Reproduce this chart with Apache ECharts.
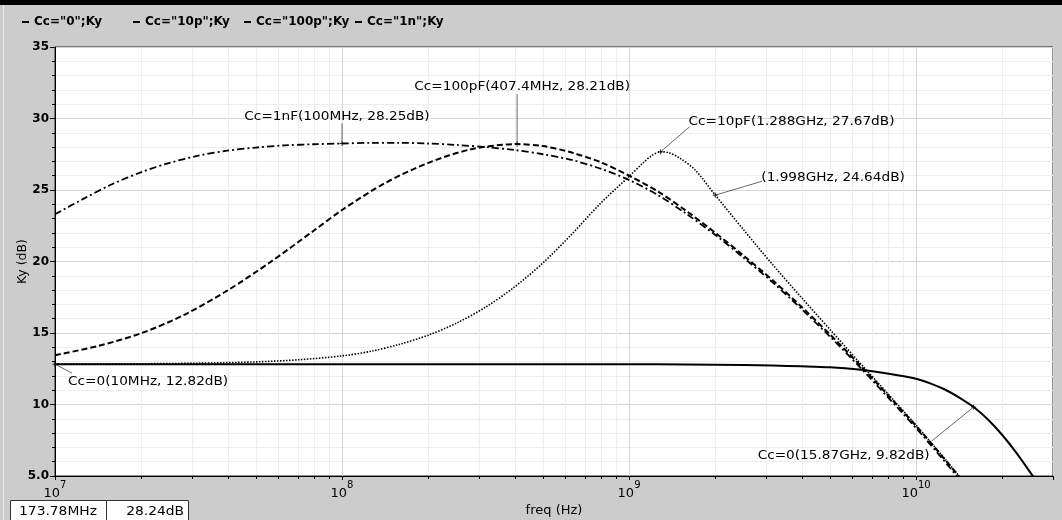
<!DOCTYPE html>
<html><head><meta charset="utf-8">
<script src="https://cdn.jsdelivr.net/npm/echarts@6/dist/echarts.min.js"></script>
<style>html,body{margin:0;padding:0;background:#cccccc;}#c{width:1062px;height:520px;}</style>
</head><body><div id="c"></div>
<script>
// ---------------- data ----------------
const seriesNames = ['Cc="0";Ky', 'Cc="10p";Ky', 'Cc="100p";Ky', 'Cc="1n";Ky'];

const freqCc0 = [1e7, 1e8, 1e9, 1.58e9, 2.51e9, 3.16e9, 3.98e9, 5.01e9, 6.31e9, 7.94e9, 1e10, 1.12e10, 1.26e10, 1.41e10, 1.587e10, 1.78e10, 2e10, 2.24e10, 2.51e10, 2.82e10];
const kyCc0   = [12.82, 12.82, 12.81, 12.8, 12.76, 12.72, 12.67, 12.6, 12.44, 12.17, 11.8, 11.48, 11.05, 10.5, 9.82, 8.95, 7.85, 6.6, 5.2, 3.7];

const freqCc10p = [1e7, 2e7, 3.16e7, 5.01e7, 7.08e7, 1e8, 1.26e8, 1.58e8, 2e8, 2.51e8, 3.16e8, 3.98e8, 5.01e8, 6.31e8, 7.94e8, 1e9, 1.12e9, 1.2e9, 1.288e9, 1.38e9, 1.51e9, 1.7e9, 1.998e9, 2.51e9, 3.16e9, 3.98e9, 5.01e9, 6.31e9, 7.94e9, 1e10, 1.26e10, 1.58e10];
const kyCc10p   = [12.83, 12.85, 12.89, 12.98, 13.13, 13.4, 13.72, 14.2, 14.85, 15.7, 16.8, 18.2, 19.9, 21.9, 24.05, 25.95, 26.9, 27.4, 27.67, 27.6, 27.2, 26.4, 24.64, 22.2, 19.8, 17.5, 15.25, 13.0, 10.8, 8.55, 6.2, 3.8];

const freqCc100p = [1e7, 1.41e7, 2e7, 2.82e7, 3.98e7, 5.62e7, 7.94e7, 1e8, 1.41e8, 2e8, 2.82e8, 4.074e8, 5.01e8, 6.31e8, 7.94e8, 1e9, 1.26e9, 1.58e9, 2e9, 2.51e9, 3.16e9, 3.98e9, 5.01e9, 6.31e9, 7.94e9, 1e10, 1.26e10, 1.58e10];
const kyCc100p   = [13.45, 14.09, 14.99, 16.27, 17.96, 19.95, 22.13, 23.6, 25.48, 26.9, 27.85, 28.21, 28.07, 27.62, 26.95, 26.0, 24.9, 23.55, 22.0, 20.4, 18.7, 16.85, 14.9, 12.85, 10.7, 8.5, 6.15, 3.75];

const freqCc1n = [1e7, 1.26e7, 1.58e7, 2e7, 2.51e7, 3.16e7, 3.98e7, 5.01e7, 6.31e7, 7.94e7, 1e8, 1.26e8, 1.58e8, 2e8, 2.51e8, 3.16e8, 3.98e8, 5.01e8, 6.31e8, 7.94e8, 1e9, 1.26e9, 1.58e9, 2e9, 2.51e9, 3.16e9, 3.98e9, 5.01e9, 6.31e9, 7.94e9, 1e10, 1.26e10, 1.58e10];
const kyCc1n   = [23.3, 24.4, 25.4, 26.25, 26.9, 27.4, 27.75, 27.97, 28.12, 28.2, 28.25, 28.3, 28.3, 28.25, 28.15, 28.0, 27.8, 27.5, 27.1, 26.5, 25.7, 24.65, 23.35, 21.85, 20.25, 18.55, 16.7, 14.75, 12.7, 10.55, 8.35, 6.0, 3.6];

// minor x grid / tick positions (2..9 per decade)
const xMinorTicks = [2e7, 3e7, 4e7, 5e7, 6e7, 7e7, 8e7, 9e7, 2e8, 3e8, 4e8, 5e8, 6e8, 7e8, 8e8, 9e8, 2e9, 3e9, 4e9, 5e9, 6e9, 7e9, 8e9, 9e9, 2e10];

// marker annotations
const markerFreq  = [1e7, 1e8, 4.074e8, 1.288e9, 1.998e9, 1.587e10];
const markerValue = [12.82, 28.25, 28.21, 27.67, 24.64, 9.82];
const markerText  = ['Cc=0(10MHz, 12.82dB)', 'Cc=1nF(100MHz, 28.25dB)', 'Cc=100pF(407.4MHz, 28.21dB)', 'Cc=10pF(1.288GHz, 27.67dB)', '(1.998GHz, 24.64dB)', 'Cc=0(15.87GHz, 9.82dB)'];

const readoutText = ['173.78MHz', '28.24dB'];

// ---------------- layout ----------------
// annotation: [leaderEndDx, leaderEndDy, textDx, textDy, align]
const markerLayout = [
  [17, 9, 13, 17, 'left'],
  [0, -20, -5, -27, 'center'],
  [0, -50, 5, -57, 'center'],
  [29, -25, 28, -30, 'left'],
  [47, -14, 46, -18, 'left'],
  [-42, 34, -44, 49, 'right']
];
const legendLeft = [22, 133, 244, 355];

function zip(a, b) { return a.map((v, i) => [v, b[i]]); }

const FONT = '"DejaVu Sans", sans-serif';
const chart = echarts.init(document.getElementById('c'), null, { renderer: 'canvas' });

const lineStyles = [
  { type: 'solid', width: 2 },
  { type: [1.5, 1.5], width: 1.6 },
  { type: [6, 3], width: 2 },
  { type: [7, 3, 2, 3], width: 1.8 }
];
const seriesData = [zip(freqCc0, kyCc0), zip(freqCc10p, kyCc10p), zip(freqCc100p, kyCc100p), zip(freqCc1n, kyCc1n)];

const lineSeries = seriesNames.map((n, i) => ({
  name: n,
  type: 'line',
  data: seriesData[i],
  symbol: 'none',
  smooth: 0.3,
  clip: true,
  z: 5,
  itemStyle: { color: '#000' },
  lineStyle: Object.assign({ color: '#000', cap: 'butt' }, lineStyles[i])
}));

const legends = seriesNames.map((n, i) => ({
  data: [n],
  left: legendLeft[i], top: 16,
  icon: 'rect',
  itemWidth: 7, itemHeight: 2,
  itemTextGap: 2,
  selectedMode: false,
  padding: 0,
  textStyle: { fontFamily: FONT, fontSize: 12, fontWeight: 'bold', color: '#000' }
}));

const option = {
  animation: false,
  backgroundColor: '#cccccc',
  textStyle: { fontFamily: FONT },
  graphic: [
    { type: 'rect', shape: { x: 0, y: 0, width: 1062, height: 5 }, style: { fill: '#000' }, silent: true },
    { type: 'line', shape: { x1: 3.5, y1: 5, x2: 3.5, y2: 520 }, style: { stroke: '#ececec', lineWidth: 1 }, silent: true },
    { type: 'rect', shape: { x: 10.5, y: 500.5, width: 96, height: 22 }, style: { fill: '#fff', stroke: '#333', lineWidth: 1 }, silent: true },
    { type: 'rect', shape: { x: 106.5, y: 500.5, width: 82, height: 22 }, style: { fill: '#fff', stroke: '#333', lineWidth: 1 }, silent: true },
    { type: 'text', x: 58, y: 512, scaleX: 1.15, style: { text: readoutText[0], font: '12px ' + FONT, fill: '#000', textAlign: 'center', textVerticalAlign: 'middle' }, silent: true },
    { type: 'text', x: 184, y: 512, scaleX: 1.15, style: { text: readoutText[1], font: '12px ' + FONT, fill: '#000', textAlign: 'right', textVerticalAlign: 'middle' }, silent: true }
  ],
  legend: legends,
  grid: {
    left: 55, right: 9, top: 47, bottom: 44,
    containLabel: false, outerBoundsMode: 'none',
    show: true, backgroundColor: '#fff', borderColor: '#222', borderWidth: 1
  },
  xAxis: {
    type: 'log', logBase: 10, min: 1e7, max: 3e10,
    name: 'freq (Hz)', nameLocation: 'middle', nameGap: 28, nameMoveOverlap: false,
    nameTextStyle: { fontFamily: FONT, fontSize: 13, color: '#000' },
    axisLine: { show: true, lineStyle: { color: '#000', width: 1 } },
    axisTick: { show: true, length: 4, lineStyle: { color: '#000' } },
    splitLine: { show: true, lineStyle: { color: '#d6d6d6', width: 1 } },
    minorTick: { show: false }, minorSplitLine: { show: false },
    axisLabel: {
      margin: 4,
      color: '#000',
      formatter: function (v) {
        const l = Math.log10(v);
        const e = Math.round(l);
        if (Math.abs(l - e) > 1e-6) return '';
        return '{b|10}{s|' + e + '}';
      },
      rich: {
        b: { fontFamily: FONT, fontSize: 13, color: '#000', lineHeight: 20, verticalAlign: 'bottom' },
        s: { fontFamily: FONT, fontSize: 10, color: '#000', lineHeight: 20, verticalAlign: 'top' }
      }
    }
  },
  yAxis: {
    type: 'value', min: 5, max: 35, interval: 5,
    name: 'Ky (dB)', nameLocation: 'middle', nameGap: 26, nameRotate: 90, nameMoveOverlap: false,
    nameTextStyle: { fontFamily: FONT, fontSize: 12.5, color: '#000' },
    axisLine: { show: true, lineStyle: { color: '#000', width: 1 } },
    axisTick: { show: true, inside: false, length: 5, lineStyle: { color: '#000' } },
    minorTick: { show: true, splitNumber: 5, length: 3, lineStyle: { color: '#000' } },
    splitLine: { show: true, lineStyle: { color: '#d6d6d6', width: 1 } },
    minorSplitLine: { show: true, lineStyle: { color: '#eeeeee', width: 1 } },
    axisLabel: {
      margin: 6, color: '#000', fontFamily: FONT, fontSize: 12, fontWeight: 'bold',
      formatter: function (v) { return v === 5 ? '5.0' : String(v); }
    }
  },
  series: [
    {
      name: 'xminor', type: 'custom', z: 1, silent: true, clip: false,
      data: xMinorTicks.map(f => [f, 5]),
      renderItem: function (params, api) {
        const f = api.value(0);
        const b = api.coord([f, 5]);
        const t = api.coord([f, 35]);
        const x = Math.round(b[0]) + 0.5;
        return {
          type: 'group', children: [
            { type: 'line', shape: { x1: x, y1: t[1] + 1, x2: x, y2: b[1] - 1 }, style: { stroke: '#eeeeee', lineWidth: 1 } },
            { type: 'line', shape: { x1: x, y1: b[1], x2: x, y2: b[1] + 3 }, style: { stroke: '#000', lineWidth: 1 } }
          ]
        };
      }
    }
  ].concat(lineSeries).concat([
    {
      name: 'markers', type: 'custom', z: 10, silent: true, clip: false,
      data: zip(markerFreq, markerValue),
      renderItem: function (params, api) {
        const i = params.dataIndex;
        const p = api.coord([api.value(0), api.value(1)]);
        const L = markerLayout[i];
        return {
          type: 'group', children: [
            { type: 'line', shape: { x1: p[0], y1: p[1], x2: p[0] + L[0], y2: p[1] + L[1] }, style: { stroke: '#444', lineWidth: 0.8 } },
            { type: 'line', shape: { x1: p[0] - 2.5, y1: p[1], x2: p[0] + 2.5, y2: p[1] }, style: { stroke: '#000', lineWidth: 0.8 } },
            { type: 'line', shape: { x1: p[0], y1: p[1] - 2.5, x2: p[0], y2: p[1] + 2.5 }, style: { stroke: '#000', lineWidth: 0.8 } },
            {
              type: 'text', x: p[0] + L[2], y: p[1] + L[3], scaleX: 1.05,
              style: { text: markerText[i], font: '13px ' + FONT, fill: '#000', textAlign: L[4], textVerticalAlign: 'middle' }
            }
          ]
        };
      }
    }
  ])
};
chart.setOption(option);
</script>
</body></html>
